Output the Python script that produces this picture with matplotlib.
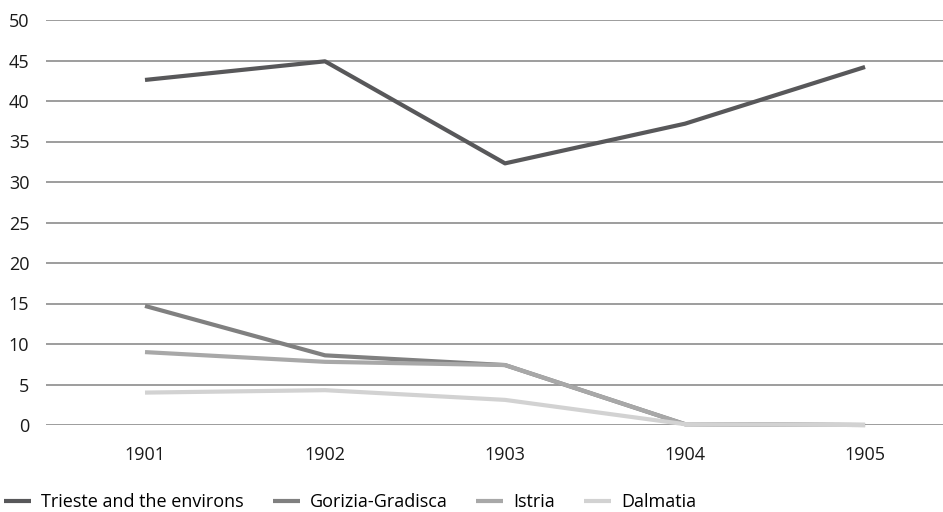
import matplotlib.pyplot as plt

plt.rcParams['font.family'] = ['Open Sans', 'DejaVu Sans']

years = ['1901', '1902', '1903', '1904', '1905']
trieste = [42.6, 44.9, 32.3, 37.2, 44.2]
gorizia = [14.7, 8.6, 7.4, 0.1, 0.0]
istria = [9.0, 7.8, 7.4, 0.1, 0.0]
dalmatia = [4.0, 4.3, 3.1, 0.1, 0.0]

names = ['Trieste and the environs', 'Gorizia-Gradisca', 'Istria', 'Dalmatia']
colors = ['#58585a', '#808080', '#a8a8a8', '#d2d2d2']

fig = plt.figure(figsize=(9.43, 5.12), dpi=100)
ax = fig.add_axes([46 / 943, (512 - 425) / 512, (943 - 46) / 943, 405 / 512])

x = range(len(years))
for vals, name, c in zip([trieste, gorizia, istria, dalmatia], names, colors):
    ax.plot(x, vals, color=c, linewidth=3, label=name, clip_on=False,
            solid_capstyle='butt', zorder=3)

ax.set_ylim(0, 50)
ax.set_yticks(range(0, 51, 5))
ax.set_xlim(-0.55, 4.433)
ax.set_xticks(list(x))
ax.set_xticklabels(years)
ax.grid(axis='y', color='#8c8c8c', linewidth=1.2)
ax.set_axisbelow(True)
for s in ax.spines.values():
    s.set_visible(False)
ax.tick_params(length=0, labelsize=13, colors='#1a1a1a')
ax.tick_params(axis='x', pad=15)
ax.tick_params(axis='y', pad=12)

ax.legend(loc='lower left', bbox_to_anchor=(-42 / 897, -0.212), ncol=4, frameon=False,
          fontsize=13, handlelength=1.5, handletextpad=0.55, columnspacing=1.6,
          borderaxespad=0, borderpad=0)

fig.savefig('out.png', dpi=100)
